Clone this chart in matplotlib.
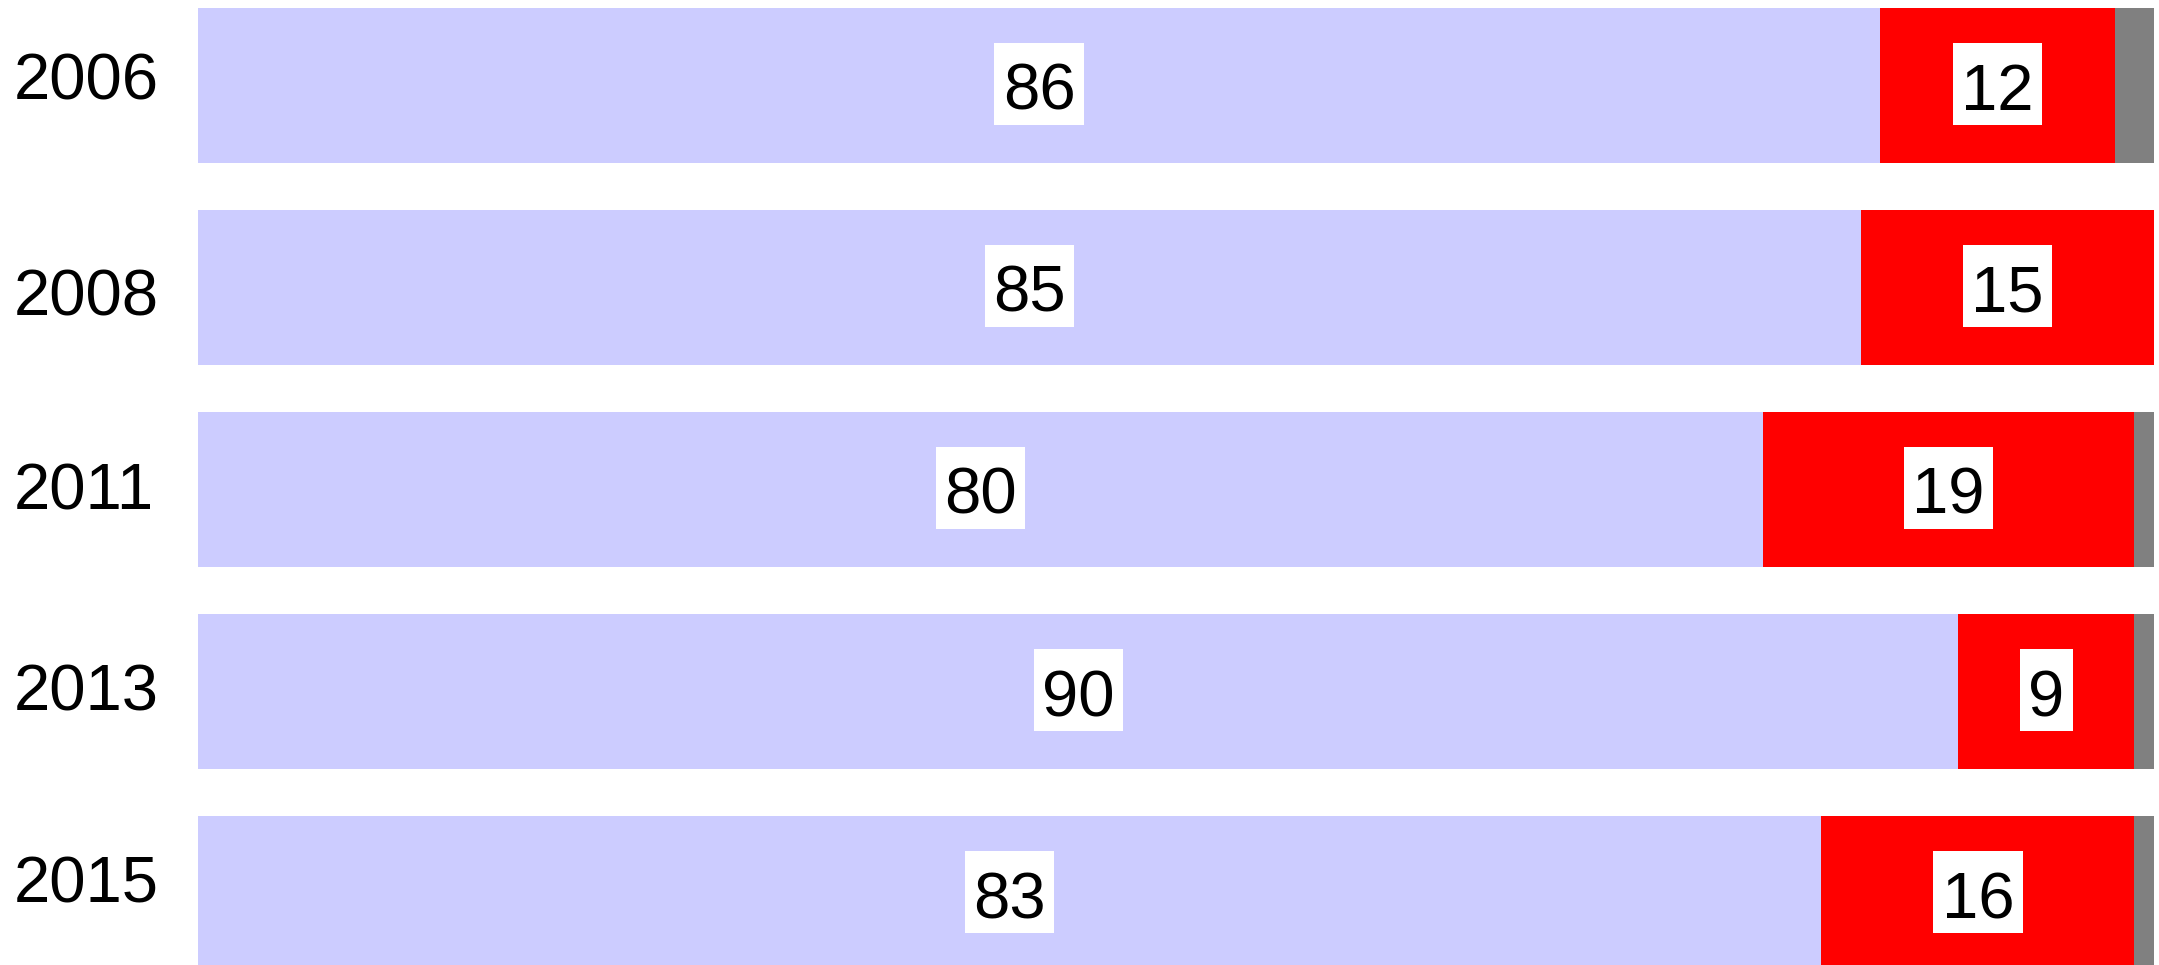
import matplotlib
matplotlib.use("Agg")
import matplotlib.pyplot as plt
import matplotlib.transforms as mtransforms
from matplotlib.path import Path

years = ["2006", "2008", "2011", "2013", "2015"]
blue_vals = [86, 85, 80, 90, 83]
red_vals = [12, 15, 19, 9, 16]
gray_vals = [2, 0, 1, 1, 1]

# style: per-row vertical nudge of the year labels (pixels below bar centre to baseline)
year_baseline_px = [14.5, 27.5, 20, 18.5, 9]

plt.rcParams['font.family'] = ['Liberation Sans', 'DejaVu Sans']

PX_PER_ROW = 202.0
fig = plt.figure(figsize=(21.59, 9.65), dpi=100)
ax = fig.add_axes([0, 0, 1, 1])
ax.set_axis_off()

ypos = list(range(len(years)))
h = 155 / PX_PER_ROW
ax.barh(ypos, blue_vals, height=h, color="#CCCCFF", linewidth=0)
ax.barh(ypos, red_vals, left=blue_vals, height=h, color="#FF0000", linewidth=0)
left_gray = [b + r for b, r in zip(blue_vals, red_vals)]
ax.barh(ypos, gray_vals, left=left_gray, height=h, color="#808080", linewidth=0)

ax.set_xlim(-198 / 19.56, 100 + 5 / 19.56)
ax.set_ylim((965 - 85.5) / PX_PER_ROW, -85.5 / PX_PER_ROW)


def label_box(x0, y0, width, height, mutation_scale):
    ms = mutation_scale
    base = y0 + 0.21 * ms
    left = x0 - 0.127 * ms
    right = x0 + width + 0.127 * ms
    bottom = base - 0.245 * ms
    top = base + 1.01 * ms
    return Path([(left, bottom), (right, bottom), (right, top), (left, top), (left, bottom)],
                closed=True)


fs = 47
box = dict(boxstyle=label_box, facecolor="white", edgecolor="none")
val_off = 24.5 / PX_PER_ROW
for i in ypos:
    ax.text(blue_vals[i] / 2, i + val_off, str(blue_vals[i]), ha="center", va="baseline",
            fontsize=fs, color="black", bbox=box)
    ax.text(blue_vals[i] + red_vals[i] / 2, i + val_off, str(red_vals[i]), ha="center",
            va="baseline", fontsize=fs, color="black", bbox=box)

trans = mtransforms.blended_transform_factory(ax.transAxes, ax.transData)
for i, y in enumerate(years):
    ax.text(14 / 2159, i + year_baseline_px[i] / PX_PER_ROW, y, ha="left", va="baseline",
            fontsize=fs, color="black", transform=trans)

fig.savefig("out.png", dpi=100)
